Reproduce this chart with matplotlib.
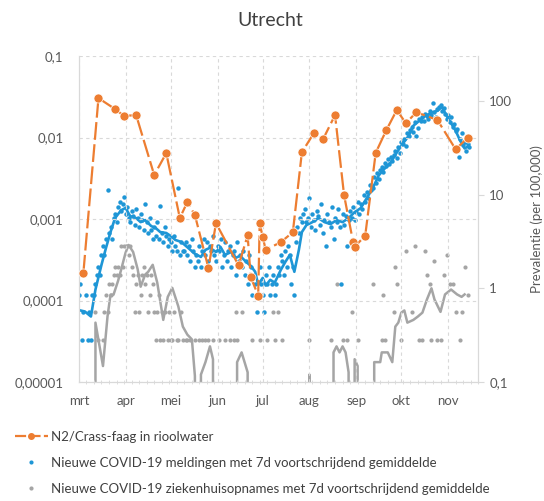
import numpy as np
import pandas as pd
import matplotlib
matplotlib.use("Agg")
import matplotlib.pyplot as plt
from matplotlib.lines import Line2D

plt.rcParams["font.family"] = ["Lato", "DejaVu Sans"]

START = pd.Timestamp("2020-03-01")
POP = 357_000  # inhabitants of Utrecht, turns daily counts into per 100,000

ORANGE = "#ED7D31"
BLUE = "#1E96D6"
GRAY = "#A5A5A5"
GRID = "#D9D9D9"
TEXT = "#595959"

# N2 / crAssphage ratio in sewage (left axis), days after 1 March
sewer_day = [3, 13, 24, 30, 38, 50, 58, 67, 72, 77, 86, 91, 106, 112, 114,
             119, 120, 122, 124, 134, 142, 148, 156, 162, 170, 176, 182, 183,
             190, 197, 204, 211, 217, 224, 238, 250, 258]
sewer_ratio = [2.2e-4, 0.0305, 0.0224, 0.0184, 0.0189, 0.00347, 0.00645,
               0.00103, 0.00162, 0.00112, 2.5e-4, 8.9e-4, 2.7e-4, 6.3e-4,
               1.95e-4, 1.15e-4, 8.9e-4, 6.0e-4, 4.2e-4, 5.2e-4, 6.9e-4,
               0.0066, 0.0114, 0.0095, 0.0189, 0.00197, 5.2e-4, 4.6e-4,
               6.2e-4, 0.0065, 0.0123, 0.0218, 0.0150, 0.0205, 0.0164,
               0.0072, 0.0099]

# new reported cases per day, from 1 March
cases = [3, 4, 1, 2, 0, 3, 1, 2, 1, 3,
         3, 4, 5, 6, 5, 8, 10, 8, 12, 40,
         14, 16, 12, 20, 22, 18, 26, 30, 24, 28,
         34, 22, 26, 20, 18, 24, 21, 17, 25, 20,
         16, 22, 19, 15, 28, 18, 14, 20, 15, 12,
         16, 13, 18, 12, 27, 14, 11, 16, 13, 10,
         12, 11, 9, 13, 10, 9, 42, 8, 11, 9,
         9, 11, 8, 10, 7, 12, 9, 6, 8, 7,
         10, 6, 9, 12, 8, 11, 7, 10, 9, 13,
         8, 7, 10, 9, 12, 6, 8, 11, 7, 9,
         10, 6, 8, 9, 5, 11, 7, 8, 6, 9,
         5, 7, 4, 8, 6, 3, 5, 4, 2, 3,
         6, 4, 3, 2, 5, 4, 6, 3, 4, 5,
         3, 4, 6, 5, 8, 7, 5, 9, 6, 10,
         8, 4, 6, 3, 11, 16, 14, 20, 18, 22,
         25, 18, 20, 33, 16, 22, 19, 15, 24, 21,
         17, 28, 14, 19, 10, 22, 18, 16, 26, 12,
         20, 18, 25, 16, 4, 22, 17, 21, 10, 19,
         24, 20, 26, 19, 23, 30, 22, 28, 25, 35,
         30, 38, 33, 45, 40, 42, 55, 48, 60, 52,
         65, 70, 62, 78, 72, 85, 75, 90, 82, 95,
         105, 88, 115, 100, 130, 125, 140, 118, 160, 150,
         175, 190, 165, 210, 150, 185, 230, 215, 240, 220,
         260, 245, 230, 280, 250, 340, 270, 240, 290, 310,
         320, 280, 300, 260, 230, 250, 210, 240, 190, 200,
         170, 180, 90, 140, 160, 120, 130, 105, 125, 115]

# 7-day average of cases, per 100,000
cases_avg_day = [1, 4, 8, 11, 15, 18, 21, 24, 28, 31, 34, 38, 41, 44, 48, 51,
                 54, 58, 61, 64, 68, 71, 74, 77, 81, 84, 87, 91, 94, 97, 101,
                 104, 107, 111, 114, 117, 119, 122, 124, 127, 130, 134, 137,
                 140, 143, 146, 148, 151, 155, 159, 163, 167, 171, 175, 179,
                 183, 187, 191, 195, 199, 203, 207, 211, 215, 219, 222, 226,
                 230, 234, 238, 241, 244, 246, 250, 253, 256, 258]
cases_avg = [0.58, 0.565, 0.50, 0.97, 1.78, 2.70, 3.98, 5.61, 6.8, 7.2, 5.9,
             5.61, 5.08, 5.34, 4.61, 4.39, 3.98, 3.89, 3.61, 3.28, 3.12, 2.83,
             2.57, 2.33, 2.16, 2.57, 2.70, 2.44, 2.76, 2.27, 2.44, 2.11, 2.22,
             1.91, 1.74, 1.50, 1.09, 1.29, 1.07, 1.23, 1.15, 1.57, 1.91, 2.27,
             1.50, 2.57, 3.98, 4.72, 5.08, 5.61, 5.08, 4.84, 5.34, 5.08, 5.61,
             6.49, 7.16, 9.14, 11.7, 16.0, 19.0, 22.0, 28.1, 35.0, 42.6, 54.3,
             61.4, 69.3, 74.6, 78.3, 86.4, 69.3, 61.4, 48.1, 37.7, 31.0, 32.5]

# new hospital admissions (only days with at least one)
hosp_day = [11, 13, 16, 17, 18, 19, 20, 21, 22, 23,
            24, 25, 26, 27, 28, 29, 30, 31, 32, 33,
            34, 35, 36, 37, 38, 39, 40, 41, 42, 43,
            44, 45, 46, 47, 48, 49, 50, 51, 52, 53,
            54, 55, 56, 57, 59, 60, 61, 62, 63, 65,
            66, 68, 69, 71, 72, 74, 77, 80, 82, 84,
            86, 89, 93, 97, 100, 103, 104, 105, 108, 115,
            120, 125, 129, 130, 132, 135, 153, 167, 171, 175,
            178, 181, 185, 195, 201, 202, 203, 209, 210, 211,
            214, 217, 221, 223, 226, 228, 230, 231, 233, 234,
            236, 238, 240, 242, 244, 246, 248, 250, 253, 254,
            256, 258]
hosp_count = [2, 1, 1, 2, 3, 2, 4, 3, 4, 5,
              6, 5, 6, 5, 10, 6, 10, 10, 10, 8,
              10, 6, 5, 2, 4, 5, 2, 3, 5, 6,
              4, 5, 2, 3, 5, 4, 2, 1, 2, 3,
              1, 2, 1, 2, 1, 2, 1, 1, 2, 1,
              1, 2, 1, 1, 1, 1, 1, 1, 1, 1,
              1, 1, 1, 1, 1, 1, 2, 1, 2, 1,
              1, 1, 2, 1, 2, 1, 1, 1, 4, 1,
              1, 2, 1, 4, 1, 3, 1, 2, 6, 4,
              1, 9, 2, 10, 1, 1, 9, 5, 4, 1,
              7, 1, 1, 5, 8, 4, 4, 2, 1, 2,
              6, 3]

# 7-day average of admissions, per 100,000 (0 = below the axis)
hosp_avg_day = [10, 11, 16, 19, 21, 23, 26, 28, 31, 33, 36, 39, 41, 44, 46,
                49, 52, 56, 59, 62, 66, 69, 72, 75, 77, 79, 81, 84, 87, 89,
                92, 104, 105, 108, 112, 114, 152, 153, 154, 168, 169, 171,
                173, 175, 177, 179, 180, 182, 183, 185, 187, 195, 196, 200,
                201, 205, 208, 210, 212, 214, 216, 218, 222, 225, 228, 231,
                234, 236, 240, 243, 247, 251, 254, 256]
hosp_avg = [0, 0.43, 0.148, 0.5, 0.855, 0.855, 1.2, 1.57, 2.4, 2.9, 2.44, 1.6,
            1.04, 1.4, 1.5, 1.78, 1.15, 0.46, 0.81, 1.01, 0.64, 0.39, 0.32,
            0.285, 0.116, 0, 0.12, 0.163, 0.24, 0.175, 0, 0, 0.163, 0.207,
            0.127, 0, 0, 0.12, 0, 0, 0.207, 0.24, 0.207, 0.24, 0.207, 0.127,
            0, 0, 0.175, 0.148, 0, 0, 0.163, 0.163, 0.207, 0.207, 0.163, 0.39,
            0.43, 0.55, 0.58, 0.43, 0.46, 0.50, 0.55, 0.76, 1.0, 0.76, 0.56,
            0.86, 0.97, 0.86, 0.81, 0.86]

month_labels = ["mrt", "apr", "mei", "jun", "jul", "aug", "sep", "okt", "nov"]
left_ticks = [1e-5, 1e-4, 1e-3, 1e-2, 1e-1]
left_labels = ["0,00001", "0,0001", "0,001", "0,01", "0,1"]
right_ticks = [0.1, 1, 10, 100]
right_labels = ["0,1", "1", "10", "100"]


def to_date(days):
    return START + pd.to_timedelta(np.asarray(days), unit="D")


cases = np.asarray(cases, dtype=float)
cases_rate = np.where(cases > 0, cases / POP * 1e5, np.nan)
hosp_rate = np.asarray(hosp_count) / POP * 1e5

fig = plt.figure(figsize=(5.44, 5.01), dpi=100)
ax = fig.add_axes([0.145, 0.2375, 0.734, 0.6505])
ax2 = ax.twinx()
ax.set_zorder(ax2.get_zorder() + 1)
ax.patch.set_visible(False)

# right axis: prevalence
ax2.set_yscale("log", nonpositive="clip")
ax2.plot(to_date(hosp_avg_day), hosp_avg, color=GRAY, lw=1.8, zorder=2)
ax2.plot(to_date(hosp_day), hosp_rate, ls="none", marker="o", ms=3,
         color=GRAY, mew=0, zorder=2)
ax2.plot(to_date(np.arange(len(cases))), cases_rate, ls="none", marker="o",
         ms=3.2, color=BLUE, mew=0, zorder=3)
ax2.plot(to_date(cases_avg_day), cases_avg, color=BLUE, lw=1.9, zorder=4)
ax2.set_ylim(0.1, 300)
ax2.set_yticks(right_ticks)
ax2.set_yticklabels(right_labels)
ax2.yaxis.set_minor_locator(plt.NullLocator())
ax2.tick_params(axis="y", length=4, color=GRID, labelsize=9.5,
                labelcolor=TEXT, pad=4)
ax2.set_ylabel("Prevalentie (per 100,000)", fontsize=9.5, color=TEXT,
               labelpad=13)

# left axis: sewage
ax.set_yscale("log")
ax.plot(to_date(sewer_day), sewer_ratio, color=ORANGE, lw=1.6,
        dashes=(8, 2), marker="o", ms=6.5, mec="white", mew=0.5,
        zorder=5)
ax.set_ylim(1e-5, 0.1)
ax.set_yticks(left_ticks)
ax.set_yticklabels(left_labels)
ax.yaxis.set_minor_locator(plt.NullLocator())
ax.tick_params(axis="y", length=0, labelsize=9.5, labelcolor=TEXT, pad=11)

ax.set_xlim(START, START + pd.Timedelta(days=265))
ax.set_xticks(pd.date_range("2020-03-01", "2020-11-01", freq="MS"))
ax.set_xticklabels(month_labels)
ax.set_xticks(pd.date_range(START, periods=54, freq="5D"), minor=True)
ax.tick_params(axis="x", which="major", length=0, labelsize=9.5,
               labelcolor=TEXT, pad=9)
ax.tick_params(axis="x", which="minor", length=3, direction="inout",
               color=GRID)

ax.grid(True, which="major", color=GRID, ls=(0, (3, 3)), lw=0.8)

for a in (ax, ax2):
    a.spines["top"].set_visible(False)
    for side in ("left", "right", "bottom"):
        a.spines[side].set_color(GRID)

fig.text(0.497, 1 - 20 / 501, "Utrecht", ha="center", va="center",
         fontsize=14, color="#404040")

handles = [
    Line2D([], [], color=ORANGE, lw=1.6, dashes=(5, 1.5), marker="o", ms=4,
           mec=ORANGE),
    Line2D([], [], ls="none", marker="o", ms=3, color=BLUE, mew=0),
    Line2D([], [], ls="none", marker="o", ms=3, color=GRAY, mew=0),
]
labels = ["N2/Crass-faag in rioolwater",
          "Nieuwe COVID-19 meldingen met 7d voortschrijdend gemiddelde",
          "Nieuwe COVID-19 ziekenhuisopnames met 7d voortschrijdend gemiddelde"]
fig.legend(handles, labels, loc="upper left",
           bbox_to_anchor=(15 / 544, 1 - 431 / 501), frameon=False,
           fontsize=9.5, handlelength=2.5, handletextpad=0.2,
           labelspacing=1.05, borderpad=0, borderaxespad=0,
           labelcolor="#404040")

fig.savefig("out.png", dpi=100, facecolor="white")
